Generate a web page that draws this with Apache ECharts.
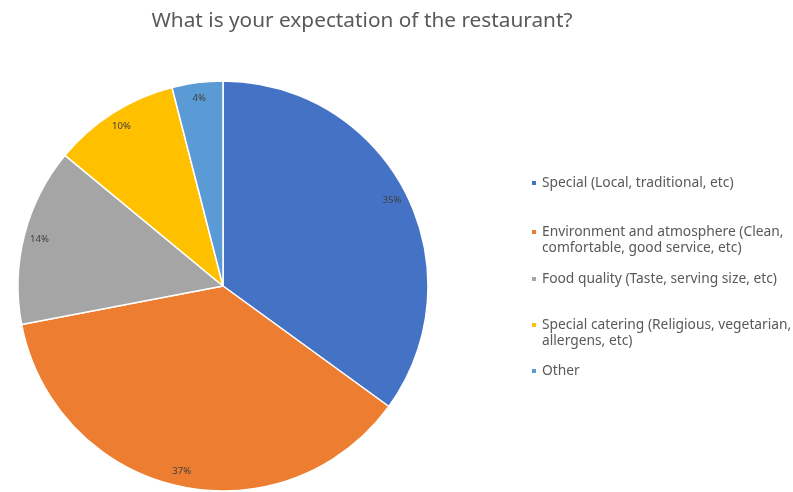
<!DOCTYPE html>
<html>
<head>
<meta charset="utf-8">
<script src="https://cdn.jsdelivr.net/npm/echarts@6/dist/echarts.min.js"></script>
<style>
  html, body { margin: 0; padding: 0; background: #fff; }
  #chart { width: 793px; height: 492px; }
</style>
</head>
<body>
<div id="chart"></div>
<script>
// Survey answers
const categories = [
  'Special (Local, traditional, etc)',
  'Environment and atmosphere (Clean, comfortable, good service, etc)',
  'Food quality (Taste, serving size, etc)',
  'Special catering (Religious, vegetarian, allergens, etc)',
  'Other'
];
const shares = [35, 37, 14, 10, 4];
const sliceColors = ['#4472C4', '#ED7D31', '#A5A5A5', '#FFC000', '#5B9BD5'];

const chart = echarts.init(document.getElementById('chart'));

const pieData = categories.map((name, i) => ({ name, value: shares[i] }));
const center = [223, 286];
const R = 205;
const font = '"Noto Sans", "Open Sans", sans-serif';

// one legend box per entry so each row sits at its own height;
// wrapped entries keep their swatch beside the first line
const legendTops = [175, 224, 271, 317, 363];
const wrapped = [false, true, false, true, false];
const legends = categories.map((name, i) => ({
  data: [name],
  left: 530,
  top: legendTops[i],
  padding: 0,
  orient: 'vertical',
  icon: wrapped[i] ? 'path://M0,0h6v6h-6z M0,22' : 'rect',
  itemWidth: 6,
  itemHeight: wrapped[i] ? 22 : 6,
  itemGap: 0,
  selectedMode: false,
  textStyle: {
    color: '#595959',
    fontSize: 13.8,
    fontFamily: font,
    lineHeight: 16,
    padding: [0, 0, 0, 0],
    width: 258,
    overflow: 'break'
  }
}));

chart.setOption({
  color: sliceColors,
  animation: false,
  title: {
    text: 'What is your expectation of the restaurant?',
    left: 357,
    textAlign: 'center',
    top: 6,
    textStyle: { color: '#595959', fontSize: 20.8, fontWeight: 'normal', fontFamily: font }
  },
  legend: legends,
  series: [
    {
      type: 'pie',
      center: center,
      radius: [0, R],
      startAngle: 90,
      clockwise: true,
      data: pieData,
      itemStyle: { borderColor: '#fff', borderWidth: 1.5 },
      label: { show: false },
      labelLine: { show: false },
      emphasis: { disabled: true }
    },
    {
      // transparent ring used only to place the percentage labels near the rim
      type: 'pie',
      center: center,
      radius: [R * 0.82, R * 1.0],
      startAngle: 90,
      clockwise: true,
      silent: true,
      data: pieData,
      itemStyle: { color: 'rgba(0,0,0,0)' },
      label: {
        show: true,
        position: 'inside',
        formatter: p => p.value + '%',
        color: '#404040',
        fontSize: 9.5,
        fontFamily: font
      },
      labelLine: { show: false },
      emphasis: { disabled: true }
    }
  ]
});
</script>
</body>
</html>
